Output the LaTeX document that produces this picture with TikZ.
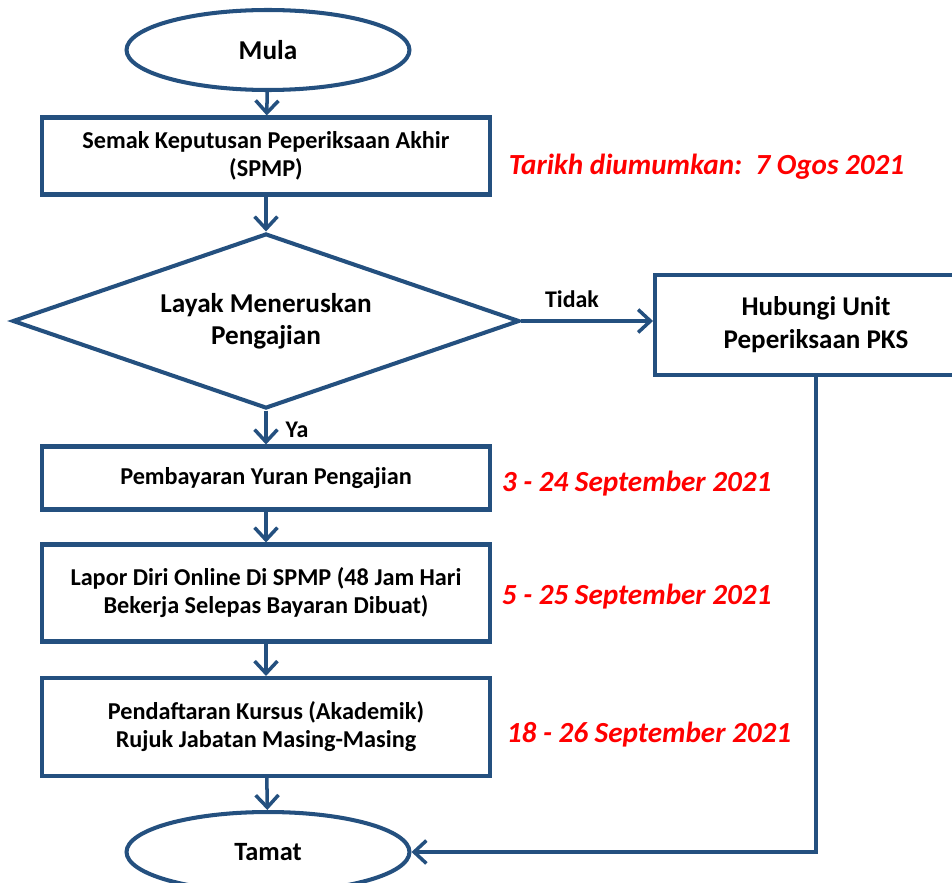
\documentclass[tikz,border=0pt]{standalone}
\usepackage{fontspec}
\setmainfont{Carlito}
\usetikzlibrary{arrows.meta, positioning, shapes.geometric}
\definecolor{cnavy}{HTML}{24507F}
\definecolor{cred}{HTML}{FF0000}
\tikzset{
  every picture/.style={font=\bfseries, line width=2.3pt},
  box/.style={draw=cnavy, rectangle, align=center, minimum width=8.96cm, inner sep=4pt, font=\bfseries\fontsize{13.8}{15.9}\selectfont},
  terminal/.style={draw=cnavy, ellipse, minimum width=5.66cm, minimum height=1.6cm, inner sep=0pt},
  arrow/.style={-{Straight Barb[length=7pt, width=13pt]}, draw=cnavy, line width=2pt},
  tarikh/.style={text=cred, anchor=west, font=\bfseries\itshape\fontsize{16.6}{19}\selectfont},
  lbl/.style={font=\bfseries\fontsize{13.6}{16}\selectfont},
}

\begin{document}
\begin{tikzpicture}[x=0.02cm, y=-0.02cm]
  \useasboundingbox (0,0) rectangle (952,882);
  % terminals and steps
  \node[terminal, font=\bfseries\fontsize{15.5}{18}\selectfont] (mula) at (268,50) {Mula};
  \node[box, minimum height=1.54cm] (semak) at (266,156) {Semak Keputusan Peperiksaan Akhir\\(SPMP)};
  \node[diamond, draw=cnavy, minimum width=10.14cm, minimum height=3.5cm, aspect=2.9, inner sep=0pt,
        align=center, font=\bfseries\fontsize{15.5}{18}\selectfont] (layak) at (266,321) {Layak Meneruskan\\Pengajian};
  \node[box, minimum width=6.44cm, minimum height=2cm, font=\bfseries\fontsize{15.4}{18.7}\selectfont] (hubungi) at (816,325) {Hubungi Unit\\Peperiksaan PKS};
  \node[box, minimum height=1.26cm] (yuran) at (266,478) {Pembayaran Yuran Pengajian};
  \node[box, minimum height=1.94cm] (lapor) at (266,593) {Lapor Diri Online Di SPMP (48 Jam Hari\\Bekerja Selepas Bayaran Dibuat)};
  \node[box, minimum height=1.96cm] (daftar) at (266,727) {Pendaftaran Kursus (Akademik)\\Rujuk Jabatan Masing-Masing};
  \node[terminal, font=\bfseries\fontsize{15}{18}\selectfont] (tamat) at (268,852) {Tamat};
  % dates
  \node[tarikh] (t1) at (501,167) {Tarikh diumumkan:\ \ 7 Ogos 2021};
  \node[tarikh] (t2) at (494,484) {3 - 24 September 2021};
  \node[tarikh] (t3) at (494,597) {5 - 25 September 2021};
  \node[tarikh] (t4) at (499,735) {18 - 26 September 2021};
  % connectors
  \draw[arrow] (mula) -- (semak);
  \draw[arrow] (semak) -- (layak);
  \draw[arrow] (layak.south) -- (yuran.north);
  \draw[arrow] (yuran) -- (lapor);
  \draw[arrow] (lapor) -- (daftar);
  \draw[arrow] (daftar) -- (tamat);
  \draw[arrow] (layak.east) -- (hubungi.west |- layak.east);
  \draw[arrow] (hubungi.south) |- (tamat.east);
  \node[lbl] (tidak) at (572,299) {Tidak};
  \node[lbl] (ya) at (297,430) {Ya};
\end{tikzpicture}
\end{document}
